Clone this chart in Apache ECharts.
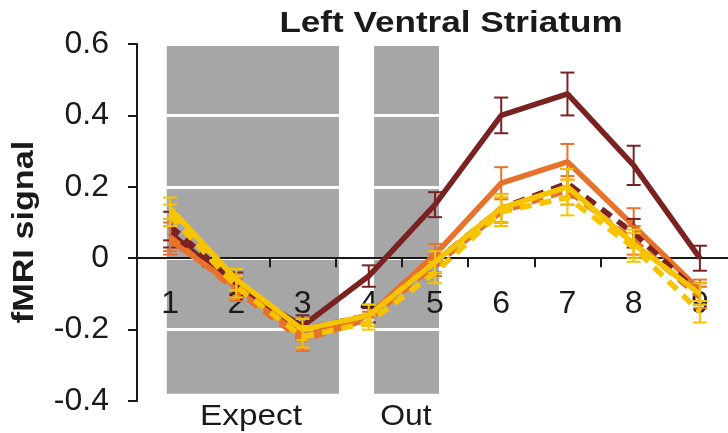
<!DOCTYPE html>
<html>
<head>
<meta charset="utf-8">
<script src="https://cdn.jsdelivr.net/npm/echarts@6/dist/echarts.min.js"></script>
<style>
  html, body { margin: 0; padding: 0; background: #fff; }
  #chart { width: 728px; height: 433px; }
</style>
</head>
<body>
<div id="chart"></div>
<script>
// Time points of the trial
const timePoints = ['1', '2', '3', '4', '5', '6', '7', '8', '9'];

// Mean fMRI signal per condition, with error (SEM) per time point
const maroonSolid    = [0.07, -0.08, -0.19, -0.05, 0.15, 0.40, 0.46, 0.26, 0.00];
const maroonSolidErr = [0.04, 0.03, 0.03, 0.03, 0.035, 0.05, 0.06, 0.055, 0.035];
const orangeSolid    = [0.05, -0.08, -0.22, -0.16, 0.01, 0.21, 0.27, 0.09, -0.09];
const orangeSolidErr = [0.04, 0.03, 0.03, 0.03, 0.03, 0.045, 0.05, 0.05, 0.03];
const maroonDashed    = [0.09, -0.07, -0.20, -0.16, -0.01, 0.14, 0.21, 0.07, -0.10];
const maroonDashedErr = [0.04, 0.03, 0.03, 0.02, 0.03, 0.04, 0.04, 0.04, 0.03];
const orangeDashed    = [0.06, -0.09, -0.23, -0.17, -0.02, 0.13, 0.19, 0.05, -0.11];
const orangeDashedErr = [0.04, 0.03, 0.03, 0.02, 0.03, 0.04, 0.04, 0.04, 0.03];
const yellowSolid    = [0.14, -0.06, -0.20, -0.16, -0.01, 0.14, 0.20, 0.04, -0.10];
const yellowSolidErr = [0.03, 0.03, 0.03, 0.03, 0.03, 0.04, 0.05, 0.04, 0.03];
const yellowDashed    = [0.12, -0.08, -0.22, -0.18, -0.04, 0.13, 0.17, 0.03, -0.15];
const yellowDashedErr = [0.03, 0.03, 0.03, 0.02, 0.03, 0.04, 0.05, 0.04, 0.03];

// Shaded task phases: [start, end] in time-point units, and their vertical extent
const expectPhase = [0.95, 3.55];
const outPhase = [4.08, 5.06];
const phaseY = [-0.38, 0.6];

// Y axis ticks
const yMin = -0.4, yMax = 0.6, yStep = 0.2;

const MAROON = '#7a2222';
const ORANGE = '#e8712b';
const YELLOW = '#f7c400';
const INK = '#1a1a1a';
const FONT = 'Liberation Sans, Arial, Helvetica, sans-serif';

// Plot box in pixels
const GRID_TOP = 44, GRID_BOTTOM = 32;
const PLOT_H = 433 - GRID_TOP - GRID_BOTTOM;
// Distance from the bottom of the plot box up to the zero line
const zeroLift = PLOT_H * (0 - yMin) / (yMax - yMin);

const chart = echarts.init(document.getElementById('chart'), null, { renderer: 'canvas' });

function lineSeries(data, color, dashed, z) {
  return {
    type: 'line',
    data: data,
    xAxisIndex: 0,
    symbol: 'none',
    z: z,
    lineStyle: { color: color, width: 5.5, type: dashed ? [12, 8] : 'solid', cap: 'butt' },
    silent: true
  };
}

function errorSeries(values, errs, color, z) {
  return {
    type: 'custom',
    xAxisIndex: 0,
    z: z,
    silent: true,
    data: values.map((v, i) => [i, v - errs[i], v + errs[i]]),
    renderItem: function (params, api) {
      const lo = api.coord([api.value(0), api.value(1)]);
      const hi = api.coord([api.value(0), api.value(2)]);
      const hw = 7;
      const style = { stroke: color, lineWidth: 2 };
      return {
        type: 'group',
        children: [
          { type: 'line', shape: { x1: lo[0], y1: lo[1], x2: hi[0], y2: hi[1] }, style: style },
          { type: 'line', shape: { x1: lo[0] - hw, y1: lo[1], x2: lo[0] + hw, y2: lo[1] }, style: style },
          { type: 'line', shape: { x1: hi[0] - hw, y1: hi[1], x2: hi[0] + hw, y2: hi[1] }, style: style }
        ]
      };
    }
  };
}

const option = {
  backgroundColor: '#fff',
  animation: false,
  grid: { left: 137, right: -5, top: GRID_TOP, bottom: GRID_BOTTOM, containLabel: false, outerBoundsMode: 'none' },
  xAxis: [
    {
      type: 'category',
      data: timePoints,
      boundaryGap: true,
      position: 'bottom',
      offset: -zeroLift,
      axisLine: { onZero: false, lineStyle: { color: INK, width: 2 } },
      axisTick: { show: true, length: 9, inside: false, lineStyle: { color: INK, width: 2 } },
      axisLabel: { margin: 30, fontSize: 32, color: INK, fontFamily: FONT },
      splitLine: { show: false }
    },
    {
      type: 'value',
      min: 0.5,
      max: 9.5,
      show: false
    }
  ],
  yAxis: {
    type: 'value',
    min: yMin,
    max: yMax,
    interval: yStep,
    axisLine: { show: true, onZero: false, lineStyle: { color: INK, width: 2 } },
    axisTick: { show: true, length: 9, lineStyle: { color: INK, width: 2 } },
    axisLabel: {
      margin: 28,
      fontSize: 32,
      color: INK,
      fontFamily: FONT,
      formatter: v => (Math.abs(v) < 1e-9 ? '0' : v.toFixed(1))
    },
    splitLine: { show: true, lineStyle: { color: '#ffffff', width: 3 } }
  },
  graphic: [
    {
      type: 'text', x: 451, y: 24, scaleX: 1.21,
      style: { text: 'Left Ventral Striatum', fontSize: 29, fontWeight: 'bold', fill: INK, fontFamily: FONT,
               align: 'center', verticalAlign: 'middle' }
    },
    {
      type: 'text',
      rotation: Math.PI / 2,
      x: 25, y: 232, scaleX: 1.14,
      style: { text: 'fMRI signal', fontSize: 30, fontWeight: 'bold', fill: INK, fontFamily: FONT,
               align: 'center', verticalAlign: 'middle' }
    },
    {
      type: 'text', x: 251, y: 417, scaleX: 1.15,
      style: { text: 'Expect', fontSize: 29, fill: INK, fontFamily: FONT, align: 'center', verticalAlign: 'middle' }
    },
    {
      type: 'text', x: 406, y: 417, scaleX: 1.1,
      style: { text: 'Out', fontSize: 29, fill: INK, fontFamily: FONT, align: 'center', verticalAlign: 'middle' }
    }
  ],
  series: [
    {
      // Grey phase bands, drawn under the white grid lines
      type: 'custom',
      xAxisIndex: 1,
      z: -1,
      silent: true,
      data: [[expectPhase[0], expectPhase[1], phaseY[0], phaseY[1]], [outPhase[0], outPhase[1], phaseY[0], phaseY[1]]],
      renderItem: function (params, api) {
        const p0 = api.coord([api.value(0), api.value(3)]);
        const p1 = api.coord([api.value(1), api.value(2)]);
        return {
          type: 'rect',
          shape: { x: p0[0], y: p0[1], width: p1[0] - p0[0], height: p1[1] - p0[1] },
          style: { fill: '#a6a6a6' }
        };
      }
    },
    errorSeries(maroonSolid, maroonSolidErr, MAROON, 3),
    lineSeries(maroonSolid, MAROON, false, 3),
    errorSeries(orangeSolid, orangeSolidErr, ORANGE, 4),
    lineSeries(orangeSolid, ORANGE, false, 4),
    errorSeries(maroonDashed, maroonDashedErr, MAROON, 5),
    lineSeries(maroonDashed, MAROON, true, 5),
    errorSeries(orangeDashed, orangeDashedErr, ORANGE, 6),
    lineSeries(orangeDashed, ORANGE, true, 6),
    errorSeries(yellowSolid, yellowSolidErr, YELLOW, 7),
    lineSeries(yellowSolid, YELLOW, false, 7),
    errorSeries(yellowDashed, yellowDashedErr, YELLOW, 8),
    lineSeries(yellowDashed, YELLOW, true, 8)
  ]
};

chart.setOption(option);
</script>
</body>
</html>
